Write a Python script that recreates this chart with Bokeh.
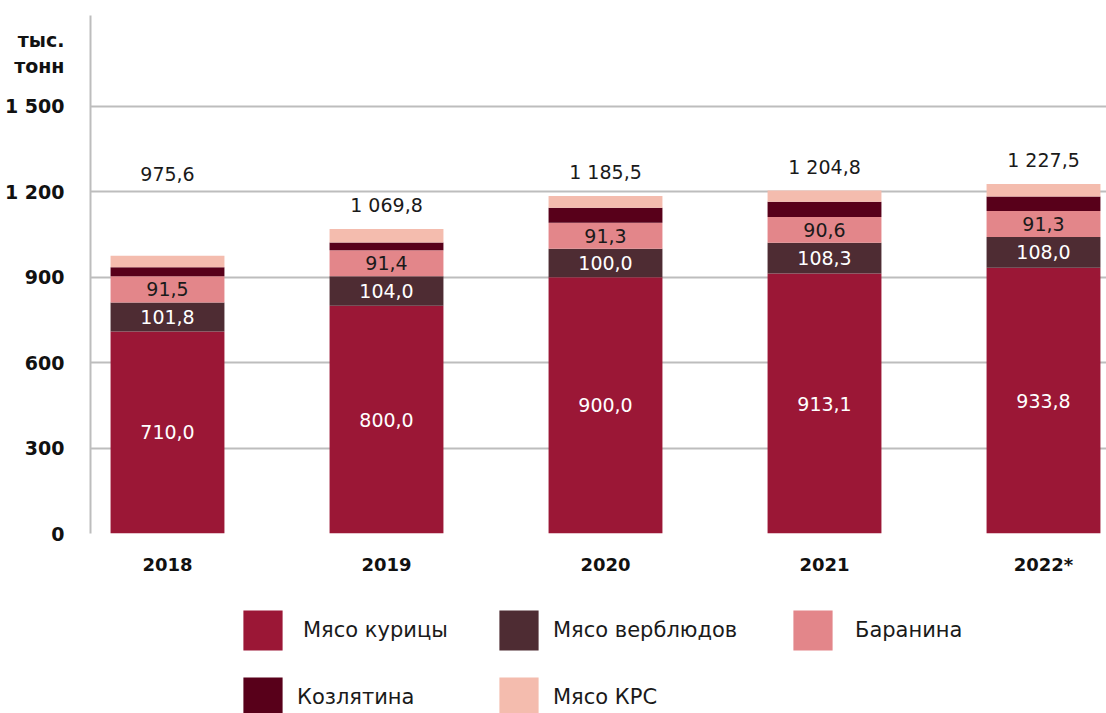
import numpy as np
from bokeh.plotting import figure
from bokeh.layouts import column
from bokeh.models import ColumnDataSource, Legend, LegendItem, FixedTicker, Range1d
from bokeh.embed import file_html
from bokeh.resources import INLINE

# ---------------- data ----------------
years = ["2018", "2019", "2020", "2021", "2022*"]
chicken = [710.0, 800.0, 900.0, 913.1, 933.8]
camel = [101.8, 104.0, 100.0, 108.3, 108.0]
lamb = [91.5, 91.4, 91.3, 90.6, 91.3]
goat = [32.0, 27.0, 53.0, 53.0, 51.0]
beef = [40.3, 47.4, 41.2, 39.8, 43.4]
totals = [975.6, 1069.8, 1185.5, 1204.8, 1227.5]
series_names = ["Мясо курицы", "Мясо верблюдов", "Баранина", "Козлятина", "Мясо КРС"]
y_ticks = [0, 300, 600, 900, 1200, 1500]
y_tick_labels = ["0", "300", "600", "900", "1 200", "1 500"]
unit_label = ["тыс.", "тонн"]

# ---------------- style ----------------
colors = ["#9B1736", "#4E2C33", "#E3868A", "#58001A", "#F4BCAE"]
FONT = "DejaVu Sans"
W = 1106
H_MAIN, H_LEG = 590, 123
BL, BR, BT, BB = 90, 0, 15, 57
Y_END = 1819.6
X_START = -0.3516
BAR_W = 0.52
frame_w = W - BL - BR
frame_h = H_MAIN - BT - BB
X_END = X_START + frame_w / 219.0
px_per_unit = frame_h / Y_END
# screen offsets (px below frame top) of the unit caption lines, in y-axis label column
unit_px = [24, 50]


def fmt(v):
    return f"{v:,.1f}".replace(",", " ").replace(".", ",")


xs = list(range(len(years)))
series = [chicken, camel, lamb, goat, beef]
arr = np.array(series)
tops = np.cumsum(arr, axis=0)
bottoms = tops - arr

p = figure(width=W, height=H_MAIN, output_backend="svg", toolbar_location=None,
           x_range=Range1d(X_START, X_END), y_range=Range1d(0, Y_END),
           min_border_left=BL, min_border_right=BR, min_border_top=BT,
           min_border_bottom=BB, outline_line_color=None)
p.background_fill_color = "white"
p.border_fill_color = "white"

for i, s in enumerate(series):
    src = ColumnDataSource(dict(x=xs, bottom=bottoms[i], top=tops[i]))
    p.vbar(x="x", bottom="bottom", top="top", width=BAR_W, source=src,
           fill_color=colors[i], line_color=None)

# segment labels
label_colors = ["white", "white", "#1a1a1a"]
for i in range(3):
    mids = (bottoms[i] + tops[i]) / 2
    src = ColumnDataSource(dict(x=xs, y=mids, t=[fmt(v) for v in series[i]]))
    p.text(x="x", y="y", text="t", source=src, text_align="center",
           text_baseline="middle", text_font_size="19px",
           text_color=label_colors[i], text_font={"value": FONT})

# totals
lift_px = [82, 24, 24, 24, 24]
ty = [t + l / px_per_unit for t, l in zip(totals, lift_px)]
src = ColumnDataSource(dict(x=xs, y=ty, t=[fmt(v) for v in totals]))
p.text(x="x", y="y", text="t", source=src, text_align="center",
       text_baseline="middle", text_font_size="19px", text_color="#1a1a1a",
       text_font={"value": FONT})

# axes
p.xaxis.ticker = FixedTicker(ticks=xs)
p.xaxis.major_label_overrides = {i: y for i, y in enumerate(years)}
p.xaxis.axis_line_color = None
p.xaxis.major_tick_line_color = None
p.xaxis.minor_tick_line_color = None
p.xaxis.major_label_standoff = 14
p.xaxis.major_label_text_font = FONT
p.xaxis.major_label_text_font_style = "bold"
p.xaxis.major_label_text_font_size = "18px"
p.xaxis.major_label_text_color = "#111111"

unit_vals = [Y_END - u / px_per_unit for u in unit_px]
p.yaxis.ticker = FixedTicker(ticks=y_ticks + unit_vals)
overrides = {t: l for t, l in zip(y_ticks, y_tick_labels)}
overrides.update({v: l for v, l in zip(unit_vals, unit_label)})
p.yaxis.major_label_overrides = overrides
p.yaxis.axis_line_color = "#bdbdbd"
p.yaxis.axis_line_width = 2
p.yaxis.major_tick_line_color = None
p.yaxis.minor_tick_line_color = None
p.yaxis.major_label_standoff = 20
p.yaxis.major_label_text_font = FONT
p.yaxis.major_label_text_font_style = "bold"
p.yaxis.major_label_text_font_size = "19px"
p.yaxis.major_label_text_color = "#111111"

p.xgrid.grid_line_color = None
p.ygrid.ticker = FixedTicker(ticks=y_ticks)
p.ygrid.grid_line_color = "#bdbdbd"
p.ygrid.grid_line_width = 2

# ---------------- legend figure ----------------
lg = figure(width=W, height=H_LEG, output_backend="svg", toolbar_location=None,
            x_range=Range1d(0, W), y_range=Range1d(0, H_LEG),
            min_border_left=0, min_border_right=0, min_border_top=0,
            min_border_bottom=0, outline_line_color=None)
lg.axis.visible = False
lg.grid.visible = False
leg_pos = [(148, 58), (404, 58), (698, 58), (148, -9), (404, -9)]
leg_standoff = [16, 10, 18, 10, 10]
for i, name in enumerate(series_names):
    # zero-height placeholder bar: only supplies the legend swatch
    r = lg.vbar(x=[0], bottom=[0], top=[0], width=1, fill_color=colors[i], line_color=None)
    leg = Legend(items=[LegendItem(label=name, renderers=[r])],
                 location=leg_pos[i], glyph_width=49, glyph_height=50,
                 label_standoff=leg_standoff[i], padding=0, margin=0,
                 border_line_color=None, background_fill_alpha=0,
                 label_text_font=FONT, label_text_font_size="21px",
                 label_text_color="#1a1a1a")
    lg.add_layout(leg)

layout = column(p, lg, spacing=0)
open("out.html", "w").write(file_html(layout, INLINE))
